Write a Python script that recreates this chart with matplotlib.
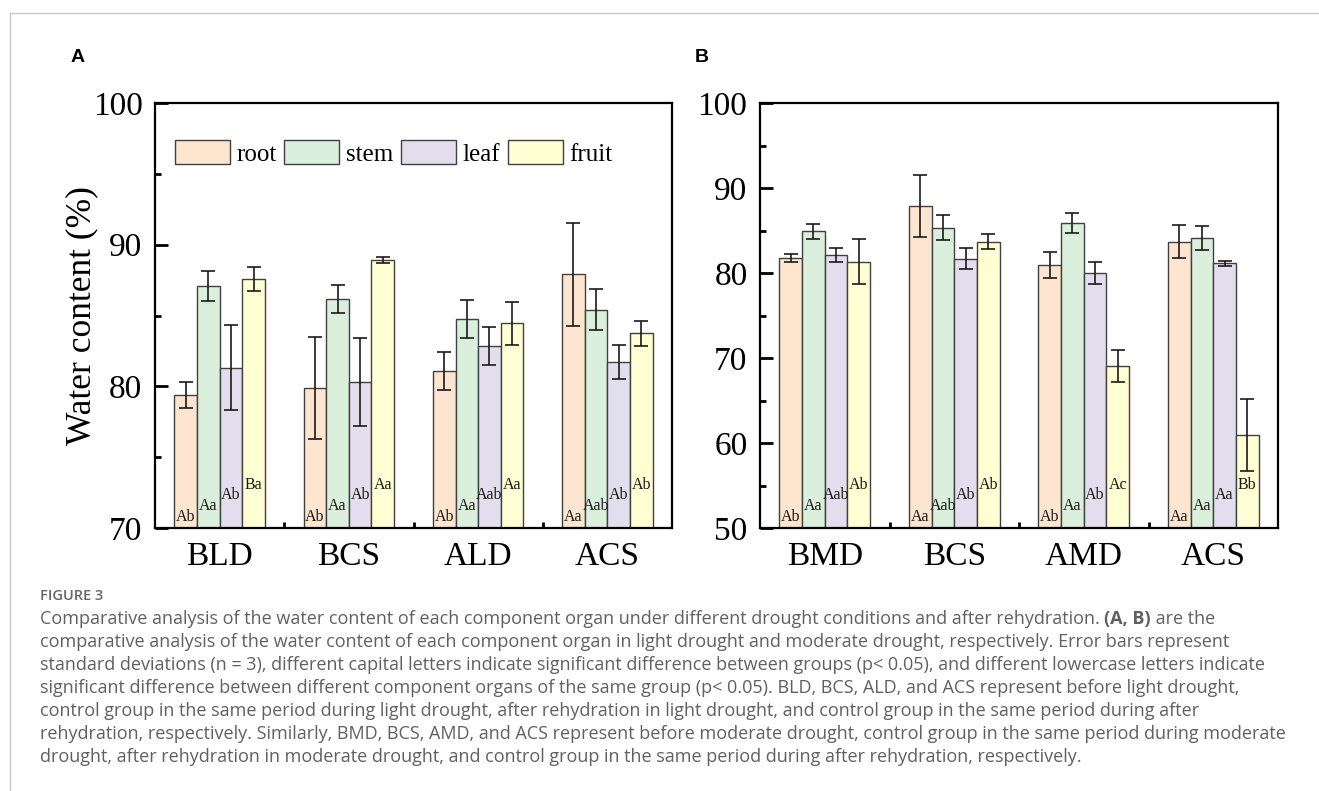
import numpy as np
import matplotlib
matplotlib.use("Agg")
import matplotlib.pyplot as plt
from matplotlib.lines import Line2D
from matplotlib.ticker import MultipleLocator, FixedLocator

plt.rcParams['font.family'] = ['Liberation Serif', 'DejaVu Serif']

organs = ['root', 'stem', 'leaf', 'fruit']
colors = ['#fde5cf', '#daefdc', '#e3deee', '#ffffd3']

# panel A: light drought
groups_a = ['BLD', 'BCS', 'ALD', 'ACS']
root_a = [79.4, 79.9, 81.1, 87.9]
stem_a = [87.1, 86.15, 84.75, 85.4]
leaf_a = [81.3, 80.3, 82.85, 81.75]
fruit_a = [87.6, 88.9, 84.45, 83.75]
root_a_sd = [0.9, 3.6, 1.35, 3.65]
stem_a_sd = [1.05, 1.0, 1.35, 1.45]
leaf_a_sd = [3.0, 3.1, 1.35, 1.2]
fruit_a_sd = [0.85, 0.2, 1.5, 0.87]
letters_a = [['Ab', 'Aa', 'Ab', 'Ba'],
             ['Ab', 'Aa', 'Ab', 'Aa'],
             ['Ab', 'Aa', 'Aab', 'Aa'],
             ['Aa', 'Aab', 'Ab', 'Ab']]

# panel B: moderate drought
groups_b = ['BMD', 'BCS', 'AMD', 'ACS']
root_b = [81.8, 87.85, 80.9, 83.7]
stem_b = [84.9, 85.35, 85.85, 84.1]
leaf_b = [82.1, 81.7, 79.95, 81.15]
fruit_b = [81.35, 83.7, 69.05, 60.95]
root_b_sd = [0.47, 3.65, 1.53, 1.96]
stem_b_sd = [0.88, 1.43, 1.2, 1.45]
leaf_b_sd = [0.8, 1.2, 1.3, 0.3]
fruit_b_sd = [2.7, 0.87, 1.85, 4.27]
letters_b = [['Ab', 'Aa', 'Aab', 'Ab'],
             ['Aa', 'Aab', 'Ab', 'Ab'],
             ['Ab', 'Aa', 'Ab', 'Ac'],
             ['Aa', 'Aa', 'Aa', 'Bb']]

caption_head = 'FIGURE 3'
# first caption line is split so the panel reference can be set in bold
caption_first = ['Comparative analysis of the water content of each component organ under different drought conditions and after rehydration. ',
                 '(A, B)', ' are the']
caption_lines = [
    'comparative analysis of the water content of each component organ in light drought and moderate drought, respectively. Error bars represent',
    'standard deviations (n = 3), different capital letters indicate significant difference between groups (p< 0.05), and different lowercase letters indicate',
    'significant difference between different component organs of the same group (p< 0.05). BLD, BCS, ALD, and ACS represent before light drought,',
    'control group in the same period during light drought, after rehydration in light drought, and control group in the same period during after',
    'rehydration, respectively. Similarly, BMD, BCS, AMD, and ACS represent before moderate drought, control group in the same period during moderate',
    'drought, after rehydration in moderate drought, and control group in the same period during after rehydration, respectively.',
]

W, H = 1319, 791
fig = plt.figure(figsize=(W / 100, H / 100), dpi=100)


def px_axes(left, top, right, bottom):
    return fig.add_axes([left / W, 1 - bottom / H, (right - left) / W, (bottom - top) / H])


def draw_panel(ax, groups, vals, sds, letters, ylim, legend=False):
    x = np.arange(1, len(groups) + 1)
    w = 0.175
    for i, (v, s) in enumerate(zip(vals, sds)):
        xi = x + (i - 1.5) * w
        ax.bar(xi, v, w, color=colors[i], edgecolor='#404040', linewidth=1.0,
               label=organs[i], zorder=2)
        ax.errorbar(xi, v, yerr=s, fmt='none', ecolor='#1a1a1a', elinewidth=1.2,
                    capsize=4.7, capthick=1.2, zorder=3)
        for g in range(len(groups)):
            ax.annotate(letters[g][i], (xi[g], ylim[0]), xytext=(0, 5.0 + 7.8 * i),
                        textcoords='offset points', ha='center', va='baseline',
                        fontsize=11.5, color='#1a1a1a', zorder=4)
    ax.set_xlim(0.5, 4.5)
    ax.set_ylim(*ylim)
    ax.set_xticks(x)
    ax.set_xticklabels(groups, fontsize=20)
    ax.xaxis.set_minor_locator(FixedLocator([1.5, 2.5, 3.5]))
    ax.yaxis.set_major_locator(MultipleLocator(10))
    ax.yaxis.set_minor_locator(MultipleLocator(5))
    ax.tick_params(which='major', direction='in', length=9, width=2, labelsize=24)
    ax.tick_params(axis='x', which='major', pad=10)
    ax.tick_params(axis='y', which='major', pad=9)
    ax.tick_params(which='minor', direction='in', length=4.5, width=2)
    ax.tick_params(top=False, right=False, which='both')
    for sp in ax.spines.values():
        sp.set_linewidth(1.6)
    if legend:
        ax.legend(loc='upper left', bbox_to_anchor=(0.038, 0.912), ncol=4,
                  frameon=False, fontsize=18, handlelength=2.2, handleheight=1.05,
                  handletextpad=0.27, columnspacing=0.3, borderpad=0,
                  borderaxespad=0)


ax_a = px_axes(155, 103, 672, 528)
draw_panel(ax_a, groups_a,
           [root_a, stem_a, leaf_a, fruit_a],
           [root_a_sd, stem_a_sd, leaf_a_sd, fruit_a_sd],
           letters_a, (70, 100), legend=True)
ax_a.set_ylabel('Water content (%)', fontsize=25.5, labelpad=-4)

ax_b = px_axes(760, 103, 1278, 528)
draw_panel(ax_b, groups_b,
           [root_b, stem_b, leaf_b, fruit_b],
           [root_b_sd, stem_b_sd, leaf_b_sd, fruit_b_sd],
           letters_b, (50, 100))

# panel letters
fig.text(78 / W, 1 - 57 / H, 'A', family='Liberation Sans', weight='bold',
         fontsize=14, ha='center', va='center')
fig.text(702 / W, 1 - 57 / H, 'B', family='Liberation Sans', weight='bold',
         fontsize=14, ha='center', va='center')

# page frame lines
fig.add_artist(Line2D([10 / W, 1], [1 - 13 / H, 1 - 13 / H], color='#c8c8c8', lw=1))
fig.add_artist(Line2D([10 / W, 10 / W], [0, 1 - 13 / H], color='#c8c8c8', lw=1))

# caption
cap_kw = dict(family='Open Sans', fontsize=13.0, color='#606060', va='center')
fig.text(40 / W, 1 - 596 / H, caption_head, family='Open Sans', weight='semibold',
         fontsize=10.5, color='#666666', va='center')

renderer = fig.canvas.get_renderer()
xpos = 40
for j, piece in enumerate(caption_first):
    t = fig.text(xpos / W, 1 - 619 / H, piece,
                 weight='bold' if j == 1 else 'normal', **cap_kw)
    xpos = t.get_window_extent(renderer).x1

for k, line in enumerate(caption_lines):
    fig.text(40 / W, 1 - (642 + 23 * k) / H, line, **cap_kw)

fig.savefig('out.png', dpi=100)
